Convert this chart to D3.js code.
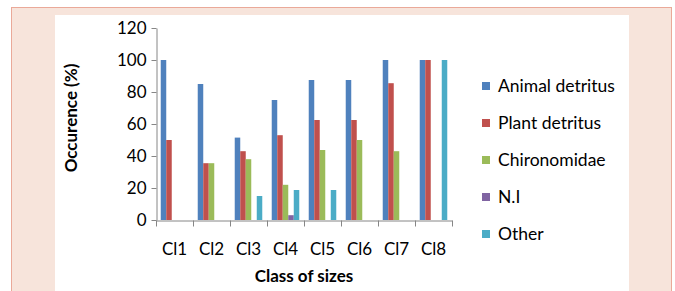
<!DOCTYPE html>
<html>
<head>
<meta charset="utf-8">
<script src="https://cdn.jsdelivr.net/npm/d3@7/dist/d3.min.js"></script>
<style>
  html, body { margin: 0; padding: 0; background: #ffffff; }
  svg { display: block; font-family: Lato, "Open Sans", sans-serif; }
</style>
</head>
<body>
<svg id="chart" width="675" height="291"></svg>
<script>
const categories = ["Cl1", "Cl2", "Cl3", "Cl4", "Cl5", "Cl6", "Cl7", "Cl8"];
const seriesNames = ["Animal detritus", "Plant detritus", "Chironomidae", "N.I", "Other"];
const animalDetritus = [100, 85, 51.5, 75, 87.5, 87.5, 100, 100];
const plantDetritus  = [50, 35.5, 43, 53, 62.5, 62.5, 85.5, 100];
const chironomidae   = [0, 35.5, 38, 22, 43.75, 50, 43, 0];
const ni             = [0, 0, 0, 3, 0, 0, 0, 0];
const other          = [0, 0, 15, 18.75, 18.75, 0, 0, 100];
const seriesValues = [animalDetritus, plantDetritus, chironomidae, ni, other];
const colors = ["#4F81BD", "#C0504D", "#9BBB59", "#8064A2", "#4BACC6"];
const yTicks = [0, 20, 40, 60, 80, 100, 120];

const svg = d3.select("#chart");

// background panels
svg.append("rect").attr("x", 11.5).attr("y", 7.5).attr("width", 660).attr("height", 300)
  .attr("fill", "#f7e4db").attr("stroke", "#eaa999").attr("stroke-width", 1);
svg.append("rect").attr("x", 55).attr("y", 15).attr("width", 574).attr("height", 290)
  .attr("fill", "#ffffff");

const x = d3.scaleBand().domain(categories).range([156, 452]).paddingInner(0).paddingOuter(0);
const xs = d3.scaleBand().domain(seriesNames).range([0, x.bandwidth()]).paddingInner(0).paddingOuter(0.86);
const y = d3.scaleLinear().domain([0, 120]).range([220, 28]);

// bars
const rows = [];
seriesNames.forEach((s, si) => {
  categories.forEach((c, ci) => {
    rows.push({ s, c, v: seriesValues[si][ci], color: colors[si] });
  });
});
svg.append("g").selectAll("rect").data(rows.filter(d => d.v > 0)).join("rect")
  .attr("x", d => x(d.c) + xs(d.s))
  .attr("y", d => y(d.v))
  .attr("width", xs.bandwidth())
  .attr("height", d => y(0) - y(d.v))
  .attr("fill", d => d.color);

// y axis
const yAxis = d3.axisLeft(y).tickValues(yTicks).tickSize(5).tickPadding(5).tickSizeOuter(0);
const gy = svg.append("g").attr("transform", "translate(156.5,0)").call(yAxis);
gy.select(".domain").attr("stroke", "#868686");
gy.selectAll(".tick line").attr("stroke", "#868686");
gy.selectAll(".tick text").attr("font-size", 17).attr("fill", "#000").attr("font-family", "Lato");

// x axis
const xAxis = d3.axisBottom(x).tickSize(0).tickPadding(22).tickSizeOuter(0);
const gx = svg.append("g").attr("transform", "translate(0,220.5)").call(xAxis);
gx.select(".domain").attr("stroke", "#868686");
gx.selectAll(".tick text").attr("font-size", 17).attr("fill", "#000").attr("font-family", "Lato");
// tick marks at category boundaries
const bounds = categories.map(c => x(c)).concat([x.range()[1]]);
gx.selectAll(".bound").data(bounds).join("line").attr("class", "bound")
  .attr("x1", d => Math.round(d) + 0.5).attr("x2", d => Math.round(d) + 0.5)
  .attr("y1", 0).attr("y2", 6).attr("stroke", "#868686");

// axis titles
svg.append("text").attr("transform", "translate(77,118) rotate(-90)")
  .attr("text-anchor", "middle").attr("font-weight", "bold").attr("font-size", 17)
  .attr("fill", "#000").text("Occurence (%)");
svg.append("text").attr("x", 304).attr("y", 282)
  .attr("text-anchor", "middle").attr("font-weight", "bold").attr("font-size", 17)
  .attr("fill", "#000").text("Class of sizes");

// legend
const lg = svg.append("g").selectAll("g").data(seriesNames).join("g")
  .attr("transform", (d, i) => `translate(482,${86 + i * 37})`);
lg.append("rect").attr("x", 0).attr("y", -4).attr("width", 8).attr("height", 8)
  .attr("fill", (d, i) => colors[i]);
lg.append("text").attr("x", 16).attr("y", 6).attr("font-size", 17.5).attr("fill", "#000")
  .text(d => d);
</script>
</body>
</html>
